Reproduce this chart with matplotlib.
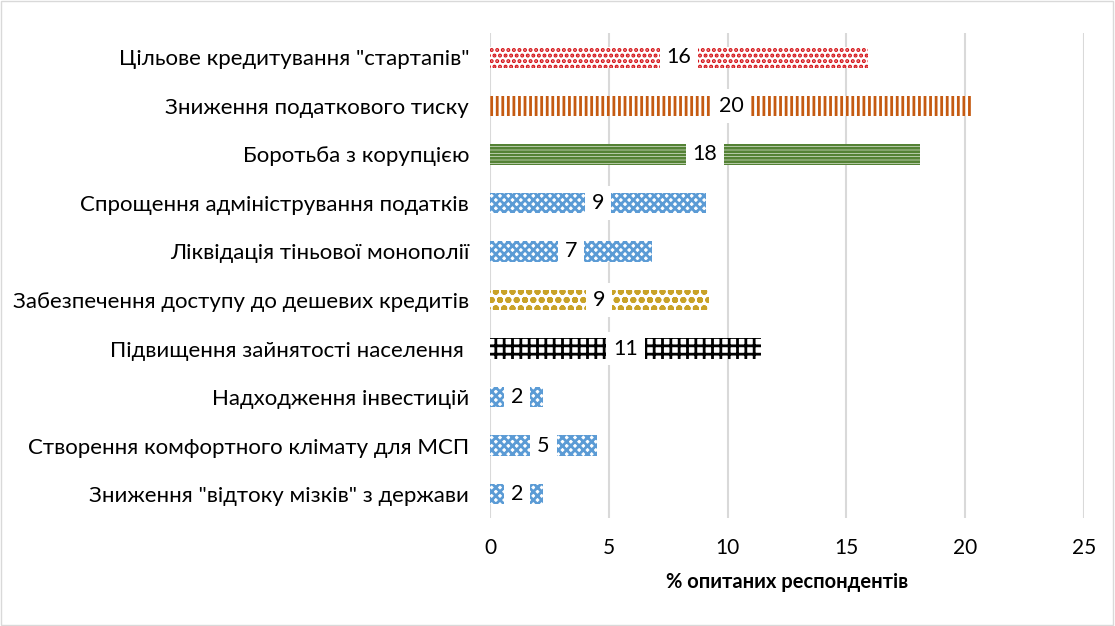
import matplotlib.pyplot as plt
from matplotlib.patches import Rectangle

plt.rcParams['font.family'] = ['Lato', 'DejaVu Sans']

categories = [
    'Цільове кредитування "стартапів"',
    'Зниження податкового тиску',
    'Боротьба з корупцією',
    'Спрощення адміністрування податків',
    'Ліквідація тіньової монополії',
    'Забезпечення доступу до дешевих кредитів',
    'Підвищення зайнятості населення ',
    'Надходження інвестицій',
    'Створення комфортного клімату для МСП',
    'Зниження "відтоку мізків" з держави',
]
values = [15.9, 20.3, 18.1, 9.1, 6.8, 9.2, 11.4, 2.25, 4.5, 2.25]
labels = ['16', '20', '18', '9', '7', '9', '11', '2', '5', '2']
colors = ['#d40f14', '#c55a11', '#548235', '#5b9bd5', '#5b9bd5',
          '#c9a227', '#000000', '#5b9bd5', '#5b9bd5', '#5b9bd5']
hatches = ['...', '|||', '-----', 'xxxx', 'xxxx', 'oo', '++', 'xxxx', 'xxxx', 'xxxx']

plt.rcParams['hatch.linewidth'] = 2.0

fig, ax = plt.subplots(figsize=(11.15, 6.26), dpi=100)
fig.subplots_adjust(left=0.4395, right=0.972, top=0.947, bottom=0.172)

y = list(range(len(categories)))
for i in y:
    ax.barh(i, values[i], height=0.42, color='white', edgecolor=colors[i],
            hatch=hatches[i], linewidth=0, zorder=2)
    ax.text(values[i] / 2, i, labels[i], ha='center', va='center', fontsize=15.5,
            bbox=dict(facecolor='white', edgecolor='none', pad=5), zorder=3)

ax.set_yticks(y)
ax.set_yticklabels(categories, fontsize=16)
ax.invert_yaxis()
ax.set_ylim(9.5, -0.5)
ax.set_xlim(0, 25)
ax.set_xticks([0, 5, 10, 15, 20, 25])
ax.tick_params(axis='x', labelsize=15, length=0, pad=14)
ax.tick_params(axis='y', length=0, pad=15)
ax.grid(axis='x', color='#d9d9d9', linewidth=1.5, zorder=0)
for s in ax.spines.values():
    s.set_visible(False)
ax.set_xlabel('% опитаних респондентів', fontsize=14.5, fontweight='bold', labelpad=10)

fig.patches.append(Rectangle((0.001, 0.002), 0.997, 0.996, transform=fig.transFigure,
                             fill=False, edgecolor='#d9d9d9', linewidth=1))

fig.savefig('out.png', dpi=100)
